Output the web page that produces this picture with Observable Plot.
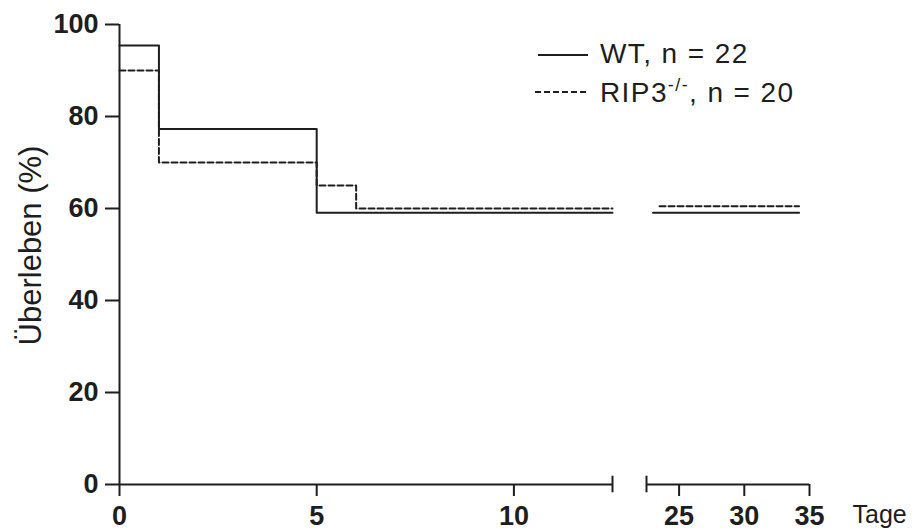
<!DOCTYPE html>
<html><head><meta charset="utf-8">
<script src="https://cdn.jsdelivr.net/npm/d3@7"></script>
<script src="https://cdn.jsdelivr.net/npm/@observablehq/plot@0.6"></script>
<style>
body{margin:0;background:#fff;}
#wrap{position:relative;width:912px;height:530px;}
#wrap svg{position:absolute;left:0;top:0;}
[aria-label^="x-axis"] line,[aria-label^="y-axis"] line,[aria-label^="x-axis"] path,[aria-label^="y-axis"] path{stroke-width:2px;}
</style></head><body>
<div id="wrap"></div>
<script>
// ---- data ----
const legendWT = "WT, n = 22";
const legendRIP = ["RIP3", "-/-", ", n = 20"];
const wtDays = [0, 1, 5, 12.5];
const wtSurvival = [95.45, 77.27, 59.09, 59.09];
const wtLateDays = [23, 34.2];
const wtLateSurvival = [59.09, 59.09];
const ripDays = [0, 1, 5, 6, 12.5];
const ripSurvival = [90, 70, 65, 60, 60];
const ripLateDays = [23.5, 34.2];
const ripLateSurvival = [60.5, 60.5];
const xTicks = [0, 5, 10, 25, 30, 35];
const yTicks = [0, 20, 40, 60, 80, 100];
const xBreak = [12.5, 22.5];
const xAxisSegments = [[0, 12.5], [22.5, 35]];
const xLabel = "Tage";
const yLabel = "Überleben (%)";

const ink = "#1e1e1e";
const font = "'Liberation Sans', Arial, sans-serif";

function rows(days, vals, seg) { return days.map((d, i) => ({day: d, s: vals[i], seg})); }
const wtRows = rows(wtDays, wtSurvival, "a").concat(rows(wtLateDays, wtLateSurvival, "b"));
const ripRows = rows(ripDays, ripSurvival, "a").concat(rows(ripLateDays, ripLateSurvival, "b"));

const plot = Plot.plot({
  width: 912, height: 530,
  marginLeft: 119, marginRight: 103, marginTop: 24, marginBottom: 46,
  style: {fontFamily: font, fontSize: "27px", fontWeight: "bold", color: ink, background: "transparent", overflow: "visible"},
  x: {type: "linear", domain: [0, xBreak[0], xBreak[1], 35], range: [119, 612, 646, 809],
      ticks: xTicks, tickSize: 12, tickPadding: 9, tickFormat: d => String(d), label: null},
  y: {domain: [0, 100], ticks: yTicks, tickSize: 14, tickPadding: 7, tickFormat: d => String(d), label: null},
  marks: [
    Plot.ruleX([0], {y1: 0, y2: 100, stroke: ink, strokeWidth: 2}),
    Plot.ruleY(xAxisSegments, {x1: d => d[0], x2: d => d[1], y: 0, stroke: ink, strokeWidth: 2}),
    Plot.ruleX(xBreak, {x: d => d, y1: -1.8, y2: 1.8, stroke: ink, strokeWidth: 2}),
    Plot.line(wtRows, {x: "day", y: "s", z: "seg", curve: "step-after", stroke: ink, strokeWidth: 2}),
    Plot.line(ripRows, {x: "day", y: "s", z: "seg", curve: "step-after", stroke: ink, strokeWidth: 2, strokeDasharray: "6,3"}),
    Plot.text([{t: yLabel, v: 50}], {text: "t", y: "v", frameAnchor: "left", textAnchor: "middle", dx: -88, dy: -9, rotate: -90,
      fontWeight: "normal", fontSize: 31, fill: ink}),
    Plot.text([{t: xLabel, v: 35}], {text: "t", x: "v", y: () => 0, dx: 43, dy: 21, textAnchor: "start", lineAnchor: "top",
      fontWeight: "normal", fontSize: 25, fill: ink})
  ]
});
document.getElementById("wrap").appendChild(plot);

// legend overlay
const leg = d3.select("#wrap").append("svg").attr("width", 912).attr("height", 530)
  .style("pointer-events", "none").style("font-family", font).style("font-size", "28px").attr("fill", ink);
leg.append("line").attr("x1", 538).attr("x2", 588).attr("y1", 55).attr("y2", 55).attr("stroke", ink).attr("stroke-width", 2);
leg.append("line").attr("x1", 535).attr("x2", 587).attr("y1", 92).attr("y2", 92).attr("stroke", ink).attr("stroke-width", 2).attr("stroke-dasharray", "6,3");
leg.append("text").attr("x", 600).attr("y", 63).style("letter-spacing", "1.4px").text(legendWT);
const t2 = leg.append("text").attr("x", 600).attr("y", 102).style("letter-spacing", "1.4px");
t2.append("tspan").text(legendRIP[0]);
t2.append("tspan").attr("dy", -11).style("font-size", "18px").text(legendRIP[1]);
t2.append("tspan").attr("dy", 11).text(legendRIP[2]);
</script>
</body></html>
